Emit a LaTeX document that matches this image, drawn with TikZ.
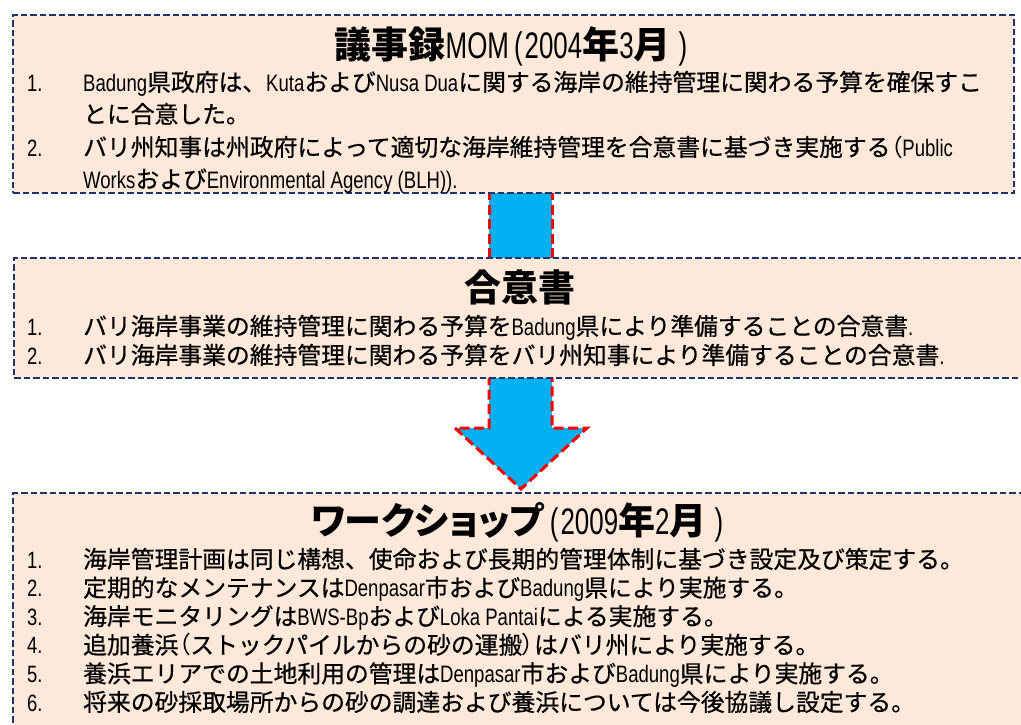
\documentclass[tikz,border=0pt]{standalone}
\usepackage{fontspec}
\setmainfont{Liberation Sans}[FakeStretch=0.78]
\newfontfamily\titlelat{Liberation Sans}[FakeStretch=0.7]
\newfontfamily\jp{Noto Sans CJK JP}[FakeBold=0.6]
\newfontfamily\jpp{Noto Sans CJK JP}[RawFeature=+palt]
\newcommand{\J}[1]{{\jp #1}}
\newcommand{\JP}[1]{{\jpp #1}}
\newcommand{\JB}[1]{{\jpp\bfseries #1}}
\definecolor{boxfill}{HTML}{FDE9D9}
\definecolor{boxline}{HTML}{1F3468}
\definecolor{arrowfill}{HTML}{00B0F0}
\definecolor{arrowline}{HTML}{FF0000}
\begin{document}
\begin{tikzpicture}[x=1pt,y=-1pt,
  panel/.style={draw=boxline, fill=boxfill, line width=2pt, dash pattern=on 6.5pt off 3pt, rectangle, inner sep=0pt, anchor=north west},
  arrowbody/.style={fill=arrowfill, draw=none},
  arrowedge/.style={draw=arrowline, line width=3pt, dash pattern=on 10pt off 4.5pt},
  numlabel/.style={anchor=base west, inner sep=0pt, font=\fontsize{23.6}{26}\selectfont},
  itemtext/.style={anchor=base west, inner sep=0pt, font=\fontsize{23.8}{26}\selectfont},
  titletext/.style={anchor=base, inner sep=0pt, font=\fontsize{37}{40}\selectfont}
]
\useasboundingbox (0,0) rectangle (1021,724);
\clip (0,0) rectangle (1021,724);

% arrows (behind panels)
\coordinate (a1tl) at (489,190);
\coordinate (a1tr) at (552,190);
\coordinate (a1bl) at (489,259);
\coordinate (a1br) at (552,259);
\fill[arrowbody] (a1tl) -- (a1tr) -- (a1br) -- (a1bl) -- cycle;
\draw[arrowedge] (a1tl) -- (a1bl);
\draw[arrowedge] (a1tr) -- (a1br);

\coordinate (a2tl) at (489,375);
\coordinate (a2tr) at (552,375);
\coordinate (a2sl) at (489,428);
\coordinate (a2sr) at (552,428);
\coordinate (a2hl) at (455,428);
\coordinate (a2hr) at (587,428);
\coordinate (a2tip) at (521,489);
\fill[arrowbody] (a2tl) -- (a2sl) -- (a2hl) -- (a2tip) -- (a2hr) -- (a2sr) -- (a2tr) -- cycle;
\draw[arrowedge, line join=miter] (a2tl) -- (a2sl) -- (a2hl) -- (a2tip) -- (a2hr) -- (a2sr) -- (a2tr);

% panels
\node[panel, minimum width=1001pt, minimum height=178pt] (box1) at (12,14) {};
\node[panel, minimum width=1020pt, minimum height=120pt] (box2) at (13,257) {};
\node[panel, minimum width=1020pt, minimum height=245pt] (box3) at (12,492) {};

% box 1
\node[titletext] (t1) at (511,58) {\JB{議事録}{\titlelat MOM\hspace{5pt}(\hspace{2pt}2004}\JB{年}{\titlelat 3}\JB{月}{\titlelat\hspace{8pt})}};
\node[numlabel] (n11) at (27,91) {1.};
\node[itemtext] (i11) at (83,91) {Badung\J{県政府は、}Kuta\J{および}Nusa Dua\J{に関する海岸の維持管理に関わる予算を確保すこ}};
\node[itemtext] (i11b) at (83,123) {\J{とに合意した。}};
\node[numlabel] (n12) at (27,156) {2.};
\node[itemtext] (i12) at (83,156) {\J{バリ州知事は州政府によって適切な海岸維持管理を合意書に基づき実施する}\JP{（}Public};
\node[itemtext] (i12b) at (83,188) {Works\J{および}Environmental Agency (BLH)).};

% box 2
\node[titletext] (t2) at (520,301) {\JB{合意書}};
\node[numlabel] (n21) at (27,335) {1.};
\node[itemtext] (i21) at (83,335) {\J{バリ海岸事業の維持管理に関わる予算を}Badung\J{県により準備することの合意書}.};
\node[numlabel] (n22) at (27,364) {2.};
\node[itemtext] (i22) at (83,364) {\J{バリ海岸事業の維持管理に関わる予算をバリ州知事により準備することの合意書}.};

% box 3
\node[titletext] (t3) at (517,534) {\JB{ワークショップ}{\titlelat\hspace{6pt}(\hspace{2pt}2009}\JB{年}{\titlelat 2}\JB{月}{\titlelat\hspace{8pt})}};
\node[numlabel] (n31) at (27,568) {1.};
\node[itemtext] (i31) at (83,568) {\J{海岸管理計画は同じ構想、使命および長期的管理体制に基づき設定及び策定する。}};
\node[numlabel] (n32) at (27,596.6) {2.};
\node[itemtext] (i32) at (83,596.6) {\J{定期的なメンテナンスは}Denpasar\J{市および}Badung\J{県により実施する。}};
\node[numlabel] (n33) at (27,625.2) {3.};
\node[itemtext] (i33) at (83,625.2) {\J{海岸モニタリングは}BWS-Bp\J{および}Loka Pantai\J{による実施する。}};
\node[numlabel] (n34) at (27,653.8) {4.};
\node[itemtext] (i34) at (83,653.8) {\J{追加養浜}\JP{（}\J{ストックパイルからの砂の運搬}\JP{）}\J{はバリ州により実施する。}};
\node[numlabel] (n35) at (27,682.4) {5.};
\node[itemtext] (i35) at (83,682.4) {\J{養浜エリアでの土地利用の管理は}Denpasar\J{市および}Badung\J{県により実施する。}};
\node[numlabel] (n36) at (27,711) {6.};
\node[itemtext] (i36) at (83,711) {\J{将来の砂採取場所からの砂の調達および養浜については今後協議し設定する。}};
\end{tikzpicture}
\end{document}
